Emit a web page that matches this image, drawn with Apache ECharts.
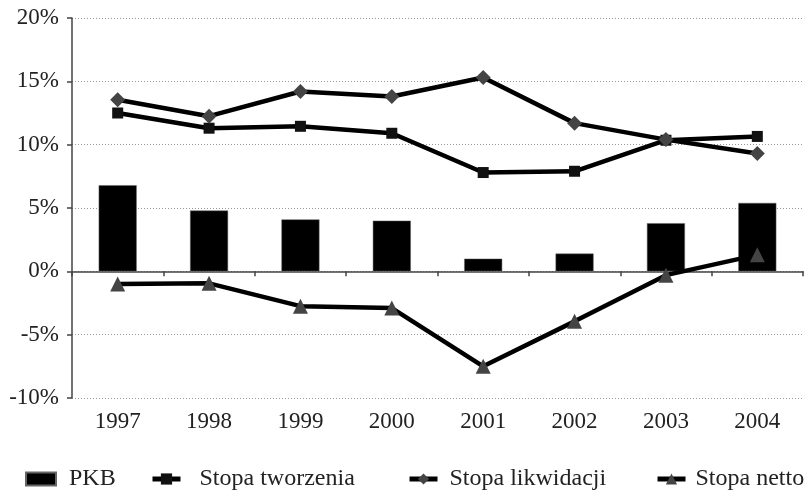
<!DOCTYPE html>
<html>
<head>
<meta charset="utf-8">
<script src="https://cdn.jsdelivr.net/npm/echarts@6/dist/echarts.min.js"></script>
<style>
  html, body { margin: 0; padding: 0; background: #fff; }
  #chart { width: 804px; height: 493px; }
</style>
</head>
<body>
<div id="chart"></div>
<script>
const years = ['1997', '1998', '1999', '2000', '2001', '2002', '2003', '2004'];
const pkb = [6.8, 4.8, 4.1, 4.0, 1.0, 1.4, 3.8, 5.4];
const tworzenia = [12.5, 11.3, 11.45, 10.9, 7.8, 7.9, 10.35, 10.65];
const likwidacji = [13.55, 12.25, 14.2, 13.8, 15.3, 11.7, 10.4, 9.3];
const netto = [-1.0, -0.95, -2.75, -2.9, -7.5, -3.95, -0.3, 1.3];

const font = 'Liberation Serif';
const chart = echarts.init(document.getElementById('chart'));

// one legend per item so each can sit where the original puts it
function legendAt(name, left, gap, isBar) {
  return {
    data: [name],
    left: left,
    top: 467,
    padding: 0,
    itemWidth: isBar ? 30 : 28,
    itemHeight: isBar ? 13 : 14,
    itemGap: 0,
    icon: isBar ? 'rect' : undefined,
    lineStyle: { width: 5, color: '#000' },
    textStyle: { fontFamily: font, fontSize: 24, color: '#222', padding: [0, 0, 0, gap] }
  };
}

const option = {
  animation: false,
  backgroundColor: '#fff',
  legend: [
    legendAt('PKB', 25, 8, true),
    legendAt('Stopa tworzenia', 150, 14, false),
    legendAt('Stopa likwidacji', 407, 7, false),
    legendAt('Stopa netto', 655, 5, false)
  ],
  grid: { left: 72, right: 1, top: 18, bottom: 95 },
  xAxis: [
    {
      type: 'category',
      data: years,
      position: 'bottom',
      axisLine: { show: false, onZero: false },
      axisTick: { show: false },
      axisLabel: { fontFamily: font, fontSize: 23, color: '#222', margin: 12 }
    },
    {
      type: 'category',
      data: years,
      position: 'bottom',
      axisLine: { show: true, onZero: true, lineStyle: { color: '#444', width: 1.5 } },
      axisTick: { show: true, inside: false, length: 5, lineStyle: { color: '#444', width: 1.5 } },
      axisLabel: { show: false }
    }
  ],
  yAxis: {
    type: 'value',
    min: -10,
    max: 20,
    interval: 5,
    axisLine: { show: true, lineStyle: { color: '#444', width: 1.5 } },
    axisTick: { show: true, length: 5, lineStyle: { color: '#444', width: 1.5 } },
    axisLabel: {
      fontFamily: font, fontSize: 23, color: '#222', margin: 13,
      padding: [5, 0, 0, 0], formatter: '{value}%'
    },
    splitLine: { show: true, lineStyle: { color: '#999', type: [1, 2], width: 1 } }
  },
  series: [
    {
      name: 'PKB',
      type: 'bar',
      data: pkb,
      barWidth: 38,
      itemStyle: { color: '#000', borderColor: '#666', borderWidth: 0.5 },
      z: 2
    },
    {
      name: 'Stopa tworzenia',
      type: 'line',
      data: tworzenia,
      symbol: 'rect',
      symbolSize: 11,
      lineStyle: { color: '#000', width: 4.5 },
      itemStyle: { color: '#111' },
      z: 4
    },
    {
      name: 'Stopa likwidacji',
      type: 'line',
      data: likwidacji,
      symbol: 'diamond',
      symbolSize: 15,
      lineStyle: { color: '#000', width: 4.5 },
      itemStyle: { color: '#444' },
      z: 4
    },
    {
      name: 'Stopa netto',
      type: 'line',
      data: netto,
      symbol: 'triangle',
      symbolSize: 15,
      lineStyle: { color: '#000', width: 4.5 },
      itemStyle: { color: '#444' },
      z: 4
    }
  ]
};

chart.setOption(option);
</script>
</body>
</html>
